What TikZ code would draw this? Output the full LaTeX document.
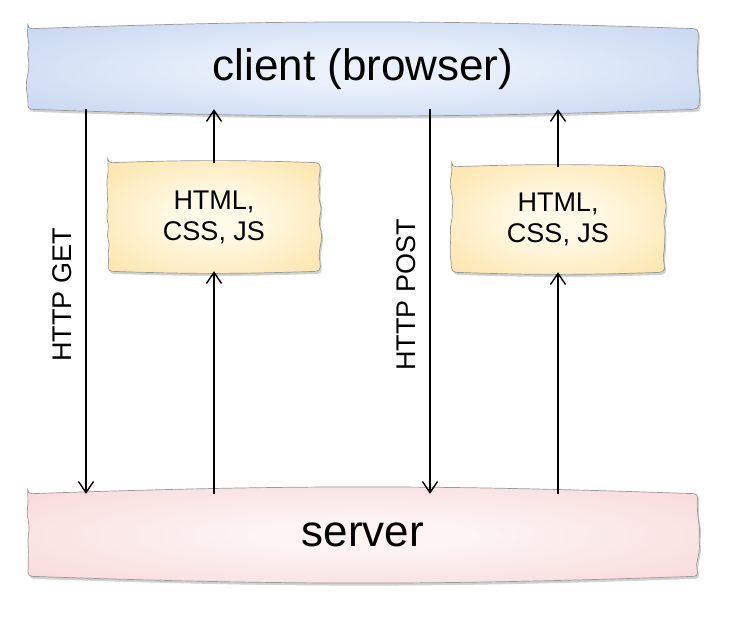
\documentclass[tikz,border=0pt]{standalone}
\usepackage{fontspec}
\setmainfont{Liberation Sans}
\usetikzlibrary{arrows.meta,decorations.pathmorphing,shadows,backgrounds}
\definecolor{wbin}{rgb}{1,1,1}
\definecolor{wbout}{rgb}{0.8,0.8,0.8}
\definecolor{cliin}{RGB}{234,241,251}
\definecolor{cliout}{RGB}{176,198,234}
\definecolor{srvin}{RGB}{253,243,243}
\definecolor{srvout}{RGB}{244,202,202}
\definecolor{yelin}{RGB}{255,250,232}
\definecolor{yelout}{RGB}{251,216,136}
\pgfdeclareradialshading[wbin,wbout]{wavyshade}{\pgfpoint{0bp}{0bp}}{color(0bp)=(wbin); color(8bp)=(wbin); color(50bp)=(wbout); color(100bp)=(wbout)}
\newcommand\wavybox[4]{%
  \colorlet{wbin}{#2}\colorlet{wbout}{#3}%
  \pgfmathsetmacro\wbr{4}%
  \pgfmathsetseed{#4}%
  \shade[shading=wavyshade, draw=black!40, line width=0.7pt, rounded corners=4pt,
    drop shadow={shadow xshift=1.5pt, shadow yshift=-2.5pt, opacity=0.3, fill=black!60}]
    (#1.north west) to[bend left=2] (#1.north east)
    decorate[decoration={random steps, segment length=9pt, amplitude=2pt}]{-- (#1.south east)}
    to[bend left=2] (#1.south west)
    decorate[decoration={random steps, segment length=9pt, amplitude=2pt}]{-- (#1.north west)}
    -- cycle;
}
\begin{document}
\begin{tikzpicture}[x=1pt,y=-1pt,
  bar/.style={minimum width=670pt, font=\fontsize{44}{50}\selectfont, inner sep=0pt},
  note/.style={minimum width=212pt, font=\fontsize{27}{31}\selectfont, align=center, inner sep=0pt},
  lbl/.style={rotate=90, font=\fontsize{27}{30}\selectfont, inner sep=0pt},
  arr/.style={line width=1.4pt, -{Straight Barb[length=11pt,width=15pt,line width=1.4pt]}}]
\useasboundingbox (0,0) rectangle (730,618);
\node[bar, minimum height=80pt] (client) at (363,69) {client (browser)};
\node[bar, minimum height=82pt] (server) at (363,535) {server};
\node[note, minimum height=108pt] (box1) at (214,217) {HTML,\\CSS, JS};
\node[note, minimum height=105pt] (box2) at (558,219.5) {HTML,\\CSS, JS};
\node[lbl] (getlbl) at (62,295) {HTTP GET};
\node[lbl] (postlbl) at (406,295) {HTTP POST};
\coordinate (g) at (86,300);
\coordinate (p) at (430,300);
\begin{scope}[on background layer]
  \wavybox{client}{cliin}{cliout}{11}
  \wavybox{server}{srvin}{srvout}{23}
  \wavybox{box1}{yelin}{yelout}{5}
  \wavybox{box2}{yelin}{yelout}{7}
\end{scope}
\draw[arr] (client.south -| g) -- (server.north -| g);
\draw[arr] (client.south -| p) -- (server.north -| p);
\draw[arr] (server.north -| box1.south) -- (box1.south);
\draw[arr] (box1.north) -- (client.south -| box1.north);
\draw[arr] (server.north -| box2.south) -- (box2.south);
\draw[arr] (box2.north) -- (client.south -| box2.north);
\end{tikzpicture}
\end{document}
